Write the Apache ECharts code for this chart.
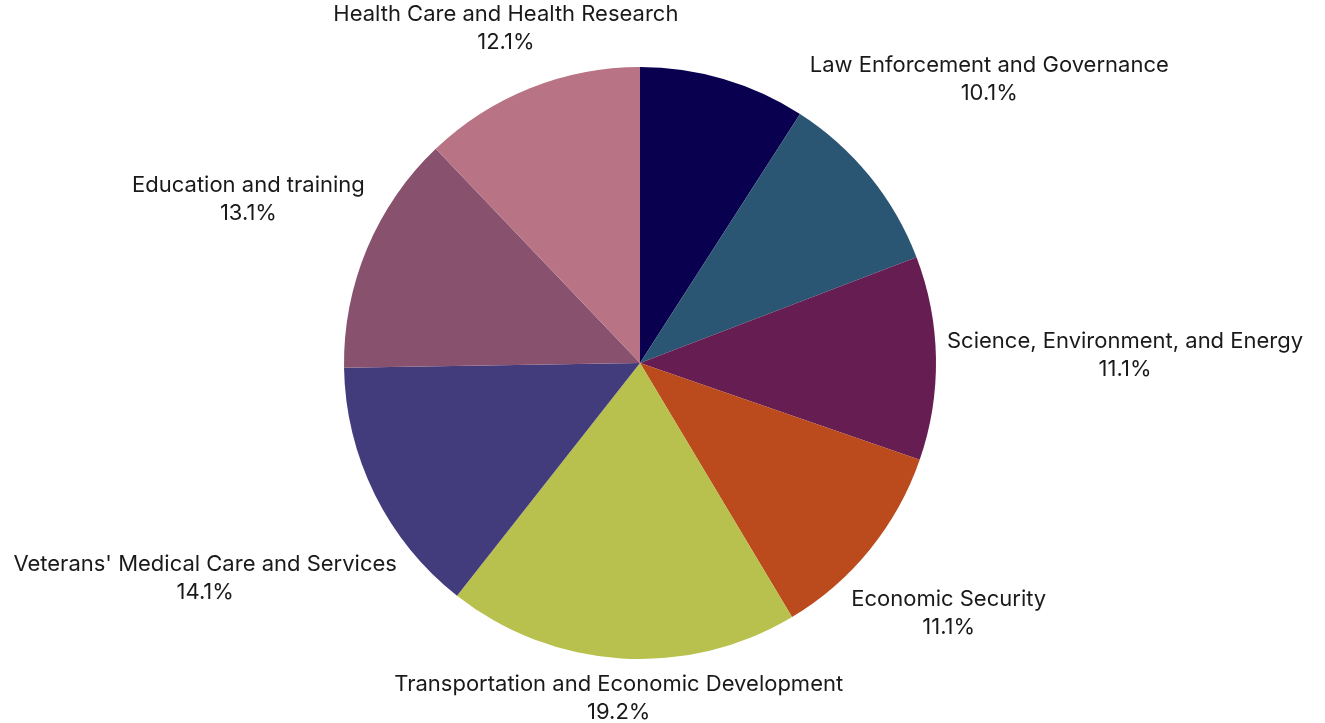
<!DOCTYPE html>
<html>
<head>
<meta charset="utf-8">
<script src="https://cdn.jsdelivr.net/npm/echarts@6/dist/echarts.min.js"></script>
<style>
html,body{margin:0;padding:0;background:#fff;}
#chart{width:1325px;height:723px;}
</style>
</head>
<body>
<div id="chart"></div>
<script>
// Data (counts out of 99)
const categories = [
  "Unlabeled",
  "Law Enforcement and Governance",
  "Science, Environment, and Energy",
  "Economic Security",
  "Transportation and Economic Development",
  "Veterans' Medical Care and Services",
  "Education and training",
  "Health Care and Health Research"
];
const values = [9, 10, 11, 11, 19, 14, 13, 12];
const showLabel = [false, true, true, true, true, true, true, true];
const colors = ["#0a0050", "#2a5573", "#661e52", "#bb4a1c", "#b8c04e", "#433c7c", "#88526f", "#b87385"];

const CX = 640, CY = 363, R = 296, GAP = 11;
const total = values.reduce((a, b) => a + b, 0);
const midAngles = [];
{
  let acc = 0;
  values.forEach(v => { midAngles.push((acc + v / 2) / total * 2 * Math.PI); acc += v; });
}

const chart = echarts.init(document.getElementById('chart'));
chart.setOption({
  animation: false,
  backgroundColor: '#ffffff',
  series: [{
    type: 'pie',
    center: [CX, CY],
    radius: R,
    startAngle: 90,
    clockwise: true,
    avoidLabelOverlap: false,
    itemStyle: { borderWidth: 0 },
    label: {
      show: true,
      position: 'outside',
      formatter: p => p.name + '\n' + (p.value / total * 100).toFixed(1) + '%',
      fontFamily: 'Inter, "DejaVu Sans", sans-serif',
      fontSize: 22,
      lineHeight: 28,
      color: '#1a1a1a',
      align: 'center'
    },
    labelLine: { show: false },
    labelLayout: function (params) {
      const i = params.dataIndex;
      const th = midAngles[i];
      const ux = Math.sin(th), uy = -Math.cos(th);
      const hw = params.labelRect.width / 2, hh = params.labelRect.height / 2;
      const nearest = d => {
        const cx = d * ux, cy = d * uy;
        const nx = Math.max(cx - hw, Math.min(0, cx + hw));
        const ny = Math.max(cy - hh, Math.min(0, cy + hh));
        return Math.hypot(nx, ny);
      };
      let lo = 0, hi = 1500;
      for (let k = 0; k < 60; k++) {
        const m = (lo + hi) / 2;
        if (nearest(m) < R + GAP) lo = m; else hi = m;
      }
      return { x: CX + hi * ux, y: CY + hi * uy, align: 'center', verticalAlign: 'middle' };
    },
    data: categories.map((c, i) => ({
      name: c,
      value: values[i],
      itemStyle: { color: colors[i] },
      label: { show: showLabel[i] }
    }))
  }]
});
</script>
</body>
</html>
